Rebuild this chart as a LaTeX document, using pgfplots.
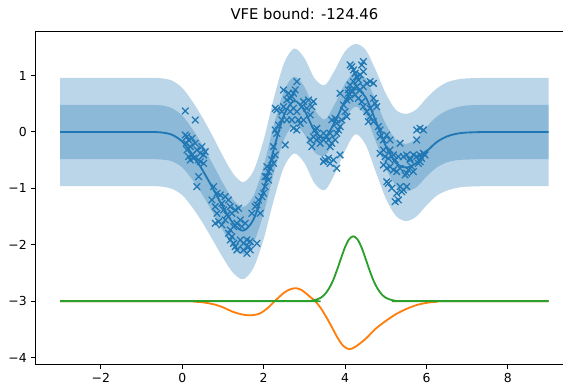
\documentclass[border=0pt]{standalone}
\usepackage{fontspec}
\setmainfont{DejaVu Sans}
\usepackage{pgfplots}
\pgfplotsset{compat=1.18}
\usepackage{pgfplotstable}
\usepgfplotslibrary{fillbetween}
\definecolor{c0}{HTML}{1F77B4}
\definecolor{c1}{HTML}{FF7F0E}
\definecolor{c2}{HTML}{2CA02C}

\pgfplotstableread{
x m d1 d2
-3.0 0.00 0.48 0.96
-2.0 0.00 0.48 0.96
-1.0 0.00 0.48 0.96
-0.75 0.00 0.48 0.96
-0.5 -0.01 0.48 0.96
-0.25 -0.05 0.47 0.96
0.0 -0.17 0.46 0.95
0.25 -0.40 0.45 0.94
0.5 -0.68 0.44 0.93
0.75 -1.00 0.43 0.92
1.0 -1.33 0.42 0.90
1.25 -1.62 0.42 0.88
1.5 -1.75 0.42 0.86
1.75 -1.55 0.42 0.86
2.0 -1.02 0.42 0.88
2.25 -0.30 0.43 0.90
2.5 0.30 0.43 0.92
2.75 0.55 0.43 0.93
3.0 0.38 0.42 0.93
3.25 0.02 0.38 0.93
3.5 -0.10 0.32 0.93
3.75 0.18 0.32 0.92
4.0 0.55 0.31 0.88
4.25 0.76 0.31 0.80
4.5 0.62 0.33 0.84
4.75 0.20 0.36 0.90
5.0 -0.25 0.39 0.93
5.25 -0.55 0.41 0.94
5.5 -0.63 0.42 0.95
5.75 -0.55 0.43 0.95
6.0 -0.35 0.44 0.95
6.25 -0.18 0.45 0.95
6.5 -0.08 0.46 0.96
6.75 -0.03 0.47 0.96
7.0 -0.01 0.48 0.96
7.5 0.00 0.48 0.96
8.0 0.00 0.48 0.96
9.0 0.00 0.48 0.96
}\gp

\pgfplotstableread{
x y
-3.0 -3.00
0.0 -3.00
0.3 -3.01
0.5 -3.02
0.8 -3.06
1.0 -3.11
1.25 -3.19
1.5 -3.24
1.7 -3.25
1.9 -3.22
2.1 -3.12
2.3 -2.98
2.5 -2.85
2.65 -2.79
2.8 -2.77
2.95 -2.81
3.1 -2.90
3.25 -2.99
3.4 -3.12
3.6 -3.36
3.8 -3.63
3.95 -3.79
4.1 -3.85
4.25 -3.81
4.5 -3.67
4.75 -3.49
5.0 -3.35
5.25 -3.23
5.5 -3.14
5.75 -3.07
6.0 -3.03
6.25 -3.01
6.5 -3.00
9.0 -3.00
}\orange

\pgfplotstableread{
x y
-3.0 -3.00
3.0 -3.00
3.1 -3.00
3.2 -2.99
3.3 -2.97
3.4 -2.94
3.5 -2.88
3.6 -2.78
3.7 -2.64
3.8 -2.45
3.9 -2.24
4.0 -2.04
4.1 -1.90
4.2 -1.85
4.3 -1.90
4.4 -2.04
4.5 -2.24
4.6 -2.45
4.7 -2.64
4.8 -2.78
4.9 -2.88
5.0 -2.94
5.1 -2.97
5.2 -2.99
5.3 -3.00
5.4 -3.00
9.0 -3.00
}\green

\pgfplotstableread{
x y
0.074 0.372
0.319 0.213
0.074 -0.053
0.115 -0.083
0.155 -0.142
0.098 -0.201
0.196 -0.260
0.115 -0.319
0.237 -0.408
0.155 -0.437
0.278 -0.467
0.360 -0.319
0.442 -0.378
0.524 -0.408
0.564 -0.349
0.483 -0.260
0.319 -0.201
0.237 -0.112
0.401 -0.496
0.196 -0.496
0.401 -0.792
0.360 -0.969
0.442 -0.526
0.524 -0.556
0.769 -0.969
0.851 -1.087
0.933 -1.117
0.728 -1.206
0.810 -1.324
0.973 -1.265
1.055 -1.147
1.137 -1.206
1.178 -1.324
1.014 -1.383
0.851 -1.442
0.892 -1.590
0.810 -1.619
0.973 -1.649
1.055 -1.560
1.096 -1.472
1.219 -1.442
1.301 -1.383
1.382 -1.353
1.423 -1.560
1.342 -1.619
1.260 -1.678
1.178 -1.738
1.137 -1.797
1.219 -1.856
1.178 -1.915
1.260 -1.974
1.301 -2.033
1.342 -2.092
1.423 -1.915
1.505 -1.974
1.587 -1.915
1.669 -1.944
1.628 -2.033
1.587 -2.151
1.505 -2.092
1.669 -2.092
1.832 -1.974
1.464 -1.678
1.546 -1.619
1.710 -1.442
1.791 -1.324
1.832 -1.294
1.914 -1.442
1.873 -1.206
1.955 -1.147
1.996 -1.087
2.037 -0.969
2.078 -0.792
2.119 -0.703
2.078 -0.615
2.160 -0.644
2.200 -0.496
2.282 -0.408
2.241 -0.556
2.119 -0.851
2.037 -0.792
2.241 -0.260
2.323 -0.024
2.282 0.035
2.364 0.124
2.446 0.213
2.282 0.420
2.323 0.390
2.528 -0.230
2.446 0.361
2.487 0.449
2.569 0.567
2.650 0.597
2.691 0.626
2.732 0.686
2.814 0.892
2.773 0.745
2.610 0.686
2.487 0.745
2.732 0.420
2.650 0.361
2.814 0.361
2.691 0.213
2.855 0.213
2.732 0.065
2.814 0.035
2.569 0.213
2.937 0.449
2.978 0.538
3.100 0.567
3.223 0.538
3.182 0.449
3.059 0.420
3.141 0.301
2.978 0.213
2.896 0.154
3.141 -0.142
3.223 -0.083
3.305 -0.142
3.387 -0.201
3.346 -0.112
3.182 -0.260
3.264 0.035
3.305 0.065
3.469 -0.024
3.469 -0.142
3.550 -0.083
3.632 -0.024
3.591 -0.142
3.673 -0.201
3.632 -0.260
3.755 -0.142
3.796 -0.024
3.837 0.035
3.877 0.095
3.673 0.213
3.755 0.242
3.796 0.154
3.918 0.213
4.041 0.272
4.000 0.361
3.959 0.479
4.041 0.567
4.123 0.597
4.082 0.686
3.877 0.686
3.469 -0.526
3.509 -0.496
3.591 -0.467
3.632 -0.556
3.796 -0.644
3.877 -0.408
3.714 -0.496
4.123 1.188
4.164 1.158
4.205 1.099
4.450 1.247
4.409 1.188
4.245 1.040
4.286 0.981
4.327 0.922
4.368 1.011
4.450 1.070
4.205 0.892
4.123 0.833
4.286 0.804
4.368 0.745
4.450 0.804
4.532 0.863
4.614 0.892
4.695 0.863
4.164 0.745
4.082 0.745
4.245 0.656
4.327 0.597
4.409 0.538
4.450 0.449
4.532 0.361
4.614 0.420
4.695 0.597
4.736 0.508
4.777 0.449
4.614 0.272
4.573 0.183
4.695 0.183
4.818 0.095
4.859 0.035
4.859 -0.083
4.941 -0.142
5.023 -0.053
5.104 -0.142
4.941 -0.319
4.859 -0.378
4.982 -0.437
5.063 -0.467
5.104 -0.319
5.186 -0.408
4.941 -0.585
5.023 -0.644
5.104 -0.615
5.186 -0.674
5.268 -0.703
5.350 -0.644
5.227 -0.496
5.309 -0.437
5.350 -0.201
5.432 -0.437
5.514 -0.408
5.596 -0.467
5.636 -0.615
5.555 -0.674
5.677 -0.703
5.473 -0.762
5.514 -0.733
5.023 -0.881
5.063 -0.910
5.145 -0.999
5.268 -1.087
5.350 -0.969
5.391 -1.058
5.309 -1.206
5.227 -1.235
5.514 -0.969
5.432 -1.028
5.759 0.035
5.841 0.065
5.923 0.035
5.759 -0.142
5.677 -0.408
5.759 -0.437
5.841 -0.408
5.880 -0.467
5.923 -0.378
5.964 -0.408
5.596 -0.496
5.800 -0.556
5.841 -0.526
}\obs

\begin{document}
\begin{tikzpicture}
\begin{axis}[
  scale only axis,
  width=403pt, height=250pt,
  xmin=-3.6, xmax=9.6, ymin=-4.12, ymax=1.79,
  xtick={-2,0,2,4,6,8},
  xticklabels={−2,0,2,4,6,8},
  ytick={-4,-3,-2,-1,0,1},
  yticklabels={−4,−3,−2,−1,0,1},
  tick align=outside, tick pos=left,
  major tick length=3.2pt,
  every tick/.style={black, line width=0.74pt},
  axis line style={black, line width=0.74pt},
  ticklabel style={font=\fontsize{9.3}{11}\selectfont},
  title={VFE bound: -124.46},
  title style={font=\fontsize{11.1}{13}\selectfont, yshift=-1pt},
  clip=true,
]
\addplot[name path=u2, draw=none, smooth] table[x=x, y expr=\thisrow{m}+\thisrow{d2}] {\gp};
\addplot[name path=l2, draw=none, smooth] table[x=x, y expr=\thisrow{m}-\thisrow{d2}] {\gp};
\addplot[c0, fill opacity=0.3, draw=none] fill between[of=u2 and l2];
\addplot[name path=u1, draw=none, smooth] table[x=x, y expr=\thisrow{m}+\thisrow{d1}] {\gp};
\addplot[name path=l1, draw=none, smooth] table[x=x, y expr=\thisrow{m}-\thisrow{d1}] {\gp};
\addplot[c0, fill opacity=0.3, draw=none] fill between[of=u1 and l1];
\addplot[c0, line width=1.38pt, smooth] table[x=x, y=m] {\gp};
\addplot[c0, only marks, mark=x, mark size=3.5pt, mark options={line width=0.95pt}] table {\obs};
\addplot[c1, line width=1.38pt, smooth, tension=0.5] table {\orange};
\addplot[c2, line width=1.38pt, smooth, tension=0.5] table {\green};
\end{axis}
\pgfresetboundingbox
\path[use as bounding box] (current axis.south west) ++(-26.8pt,-15.5pt) rectangle ++(422.25pt,288.75pt);
\end{tikzpicture}
\end{document}
